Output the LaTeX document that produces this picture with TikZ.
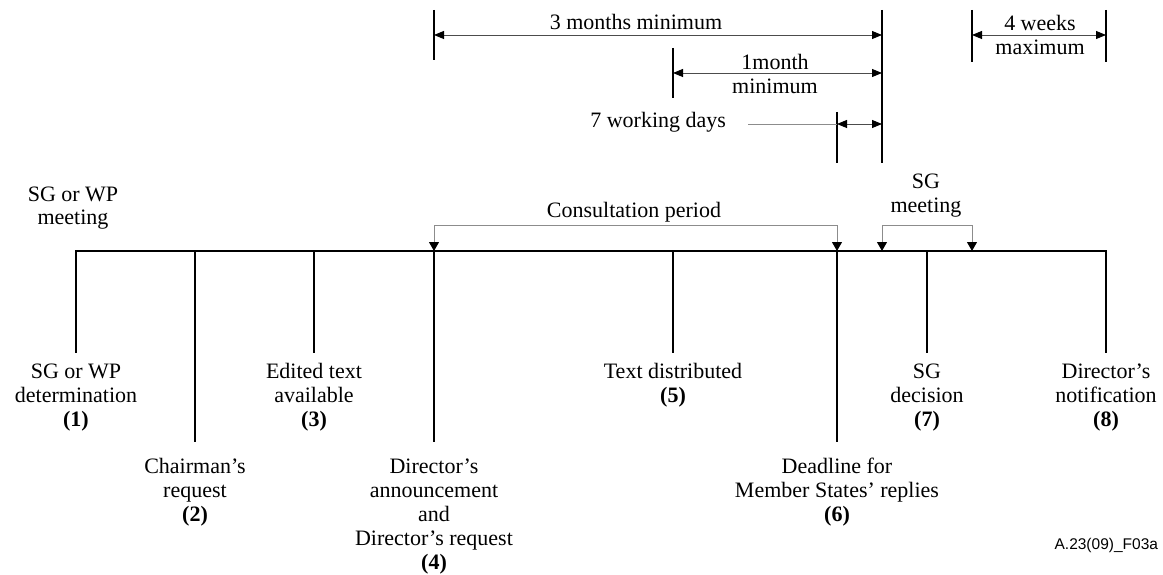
\documentclass[tikz,border=0pt]{standalone}
\usepackage{fontspec}
\setmainfont{Liberation Serif}
\newfontfamily\tagfont{Liberation Sans}
\usetikzlibrary{arrows.meta}
% fixed-height strut so every label's first baseline sits 17pt below its top
\newcommand\lnstrut{\rule{0pt}{17pt}}
\begin{document}
\begin{tikzpicture}[x=1pt,y=-1pt,
  every node/.style={inner sep=0pt,outer sep=0pt},
  lbl/.style={font=\fontsize{22}{24}\selectfont, align=center, anchor=north},
  axis/.style={line width=1.8pt, line cap=rect},
  event/.style={line width=1.5pt},
  tick/.style={line width=1.5pt},
  dim/.style={line width=0.9pt, draw=black!70,
    {Triangle[length=10pt,width=8pt,color=black]}-{Triangle[length=10pt,width=8pt,color=black]}},
  leader/.style={line width=0.9pt, draw=black!45},
  brace/.style={line width=1pt, draw=black!45,
    {Triangle[length=9pt,width=10pt,color=black]}-{Triangle[length=9pt,width=10pt,color=black]}}
]
\useasboundingbox (0,0) rectangle (1163,575);

% ---- points on the time axis ----
\coordinate (m1) at (76,251);
\coordinate (m2) at (195,251);
\coordinate (m3) at (314,251);
\coordinate (m4) at (434,251);
\coordinate (m5) at (673,251);
\coordinate (m6) at (837,251);
\coordinate (s1) at (882,251);
\coordinate (m7) at (927,251);
\coordinate (s2) at (972,251);
\coordinate (m8) at (1106,251);

% ---- lower ends of the event lines ----
\coordinate (b1) at (76,353);
\coordinate (b2) at (195,442);
\coordinate (b3) at (314,353);
\coordinate (b4) at (434,442);
\coordinate (b5) at (673,353);
\coordinate (b6) at (837,442);
\coordinate (b7) at (927,353);
\coordinate (b8) at (1106,353);

% ---- bracket corners ----
\coordinate (k4) at (434,226);
\coordinate (k6) at (837,226);
\coordinate (k7) at (882,226);
\coordinate (k8) at (972,226);

% ---- dimension ticks and arrow ends ----
\coordinate (t4a) at (434,10);   \coordinate (t4b) at (434,60);
\coordinate (t5a) at (673,48);   \coordinate (t5b) at (673,98);
\coordinate (t6a) at (837,112);  \coordinate (t6b) at (837,163);
\coordinate (ra)  at (882,10);   \coordinate (rb)  at (882,163);
\coordinate (w1a) at (972,10);   \coordinate (w1b) at (972,62);
\coordinate (w2a) at (1106,10);  \coordinate (w2b) at (1106,62);
\coordinate (d3l) at (434,35);   \coordinate (d3r) at (882,35);
\coordinate (d1l) at (673,73);   \coordinate (d1r) at (882,73);
\coordinate (d7l) at (837,124);  \coordinate (d7r) at (882,124);
\coordinate (d7s) at (748,124);
\coordinate (d4l) at (972,35);   \coordinate (d4r) at (1106,35);

% ---- time axis and event lines ----
\draw[axis] (m1) -- (m8);
\foreach \i in {1,...,8} \draw[event] (m\i) -- (b\i);

% ---- consultation period and SG meeting brackets ----
\draw[brace] (m4) -- (k4) -- (k6) -- (m6);
\draw[brace] (s1) -- (k7) -- (k8) -- (s2);

% ---- durations ----
\draw[tick] (t4a) -- (t4b);
\draw[tick] (t5a) -- (t5b);
\draw[tick] (t6a) -- (t6b);
\draw[tick] (ra) -- (rb);
\draw[tick] (w1a) -- (w1b);
\draw[tick] (w2a) -- (w2b);
\draw[dim] (d3l) -- (d3r);
\draw[dim] (d1l) -- (d1r);
\draw[leader] (d7s) -- (d7l);
\draw[dim] (d7l) -- (d7r);
\draw[dim] (d4l) -- (d4r);

% ---- duration labels ----
\node[lbl] (l3m) at (636,13) {\lnstrut 3 months minimum};
\node[lbl] (l1m) at (775,53) {\lnstrut 1month\\minimum};
\node[lbl, anchor=north east] (l7d) at (726,111) {\lnstrut 7 working days};
\node[lbl] (l4w) at (1040,14) {\lnstrut 4 weeks\\maximum};

% ---- labels above the axis ----
\node[lbl] (lwp) at (73,185) {\lnstrut SG or WP\\[-1.5pt]meeting};
\node[lbl] (lcp) at (634,201) {\lnstrut Consultation period};
\node[lbl] (lsg) at (926,171) {\lnstrut SG\\meeting};

% ---- event labels ----
\node[lbl] (e1) at (76,361)   {\lnstrut SG or WP\\determination\\\textbf{(1)}};
\node[lbl] (e2) at (195,456)  {\lnstrut Chairman’s\\request\\\textbf{(2)}};
\node[lbl] (e3) at (314,361)  {\lnstrut Edited text\\available\\\textbf{(3)}};
\node[lbl] (e4) at (434,456)  {\lnstrut Director’s\\announcement\\and\\Director’s request\\\textbf{(4)}};
\node[lbl] (e5) at (673,361)  {\lnstrut Text distributed\\\textbf{(5)}};
\node[lbl] (e6) at (837,456)  {\lnstrut Deadline for\\Member States’ replies\\\textbf{(6)}};
\node[lbl] (e7) at (927,361)  {\lnstrut SG\\decision\\\textbf{(7)}};
\node[lbl] (e8) at (1106,361) {\lnstrut Director’s\\notification\\\textbf{(8)}};

% ---- figure tag ----
\node[anchor=base east, font=\tagfont\fontsize{15.5}{18}\selectfont] (tag) at (1158,549) {A.23(09)\_F03a};
\end{tikzpicture}
\end{document}
